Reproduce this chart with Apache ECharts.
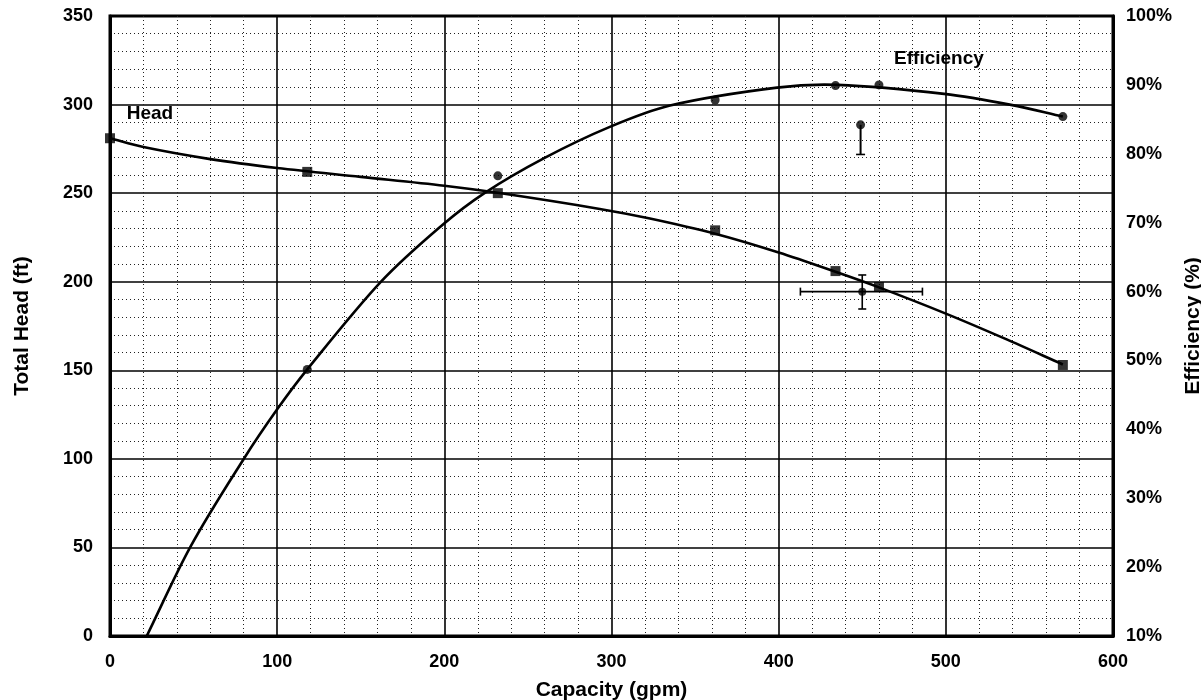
<!DOCTYPE html>
<html>
<head>
<meta charset="utf-8">
<script src="https://cdn.jsdelivr.net/npm/echarts@6/dist/echarts.min.js"></script>
<style>
html,body{margin:0;padding:0;background:#fff;}
#chart{width:1201px;height:700px;}
</style>
</head>
<body>
<div id="chart"></div>
<script>
// Axis ticks
const capacityTicks = [0, 100, 200, 300, 400, 500, 600];
const headTicks = [0, 50, 100, 150, 200, 250, 300, 350];
const effTicks = [10, 20, 30, 40, 50, 60, 70, 80, 90, 100];

// Head (ft) measured points [capacity gpm, head ft]
const headPoints = [[0, 281], [118, 262], [232, 250], [362, 229], [434, 206], [460, 197], [570, 153]];
// Head fitted curve
const headCurve = [[0, 281], [20, 276], [60, 269.2], [100, 264.2], [150, 259.2], [200, 254.2], [232, 250.2],
  [293, 241.1], [323, 235.7], [362, 227.1], [400, 216.5], [434, 205.6], [460, 196.8], [500, 182], [535, 168], [570, 153.3]];

// Efficiency (%) measured points [capacity gpm, efficiency %]
const effPoints = [[118, 48.7], [232, 76.8], [362, 87.8], [434, 89.9], [460, 90.0], [570, 85.4]];
// Efficiency fitted curve
const effCurve = [[22, 10], [48, 22.9], [80, 35.7], [100, 42.9], [118, 48.7], [162, 61.4],
  [199, 69.7], [224, 74.3], [260, 79.4], [299, 83.9], [335, 87.0], [399, 89.6], [435, 90.0], [499, 88.7],
  [539, 87.1], [570, 85.4]];

// Error-bar points
// head: [x, y, xLow, xHigh, yLow, yHigh]
const headErr = [[450, 194.4, 413, 486, 184.6, 203.8]];
// efficiency: [x, y, yLow]
const effErr = [[449, 84.2, 79.9]];

// Annotations [x, y(ft), text]
const notes = [[10, 295, 'Head'], [469, 326, 'Efficiency']];

const FONT = '"Liberation Sans", Arial, sans-serif';
const chart = echarts.init(document.getElementById('chart'), null, {renderer: 'canvas'});

const capStyle = {stroke: '#000', lineWidth: 1.6};
const tickFont = {fontFamily: FONT, fontWeight: 'bold', fontSize: 18, color: '#000'};
const nameFont = {fontFamily: FONT, fontWeight: 'bold', fontSize: 21, color: '#000'};

// Smooth curve through points (Hermite spline in pixel space, y as function of x)
function curveSeries(name, pts, yAxisIndex) {
  return {
    name: name, type: 'custom', xAxisIndex: 0, yAxisIndex: yAxisIndex, data: pts, z: 3,
    encode: {x: 0, y: 1}, silent: true,
    renderItem: function (params, api) {
      if (params.dataIndex !== 0) return null;
      const P = pts.map(p => api.coord(p));
      const n = P.length;
      const m = P.map((p, i) => {
        const a = P[Math.max(0, i - 1)], b = P[Math.min(n - 1, i + 1)];
        return (b[1] - a[1]) / (b[0] - a[0]);
      });
      let d = 'M' + P[0][0] + ' ' + P[0][1];
      for (let i = 0; i < n - 1; i++) {
        const dx = (P[i + 1][0] - P[i][0]) / 3;
        d += ' C' + (P[i][0] + dx) + ' ' + (P[i][1] + m[i] * dx) + ' ' +
          (P[i + 1][0] - dx) + ' ' + (P[i + 1][1] - m[i + 1] * dx) + ' ' +
          P[i + 1][0] + ' ' + P[i + 1][1];
      }
      return {type: 'path', shape: {pathData: d}, style: {stroke: '#000', lineWidth: 2.6, fill: null}};
    }
  };
}

const option = {
  backgroundColor: '#fff',
  animation: false,
  grid: {left: 110, right: 88, top: 16, bottom: 64, outerBoundsMode: 'none', containLabel: false,
    show: true, borderColor: '#000', borderWidth: 3, backgroundColor: 'transparent'},
  xAxis: {
    type: 'value', min: capacityTicks[0], max: capacityTicks[capacityTicks.length - 1], interval: 100,
    name: 'Capacity (gpm)', nameLocation: 'middle', nameGap: 44, nameTextStyle: nameFont,
    axisLine: {show: true, lineStyle: {color: '#000', width: 3}},
    axisTick: {show: false},
    axisLabel: Object.assign({margin: 17}, tickFont),
    splitLine: {show: true, lineStyle: {color: '#000', width: 1.6}},
    minorTick: {show: false, splitNumber: 5},
    minorSplitLine: {show: true, lineStyle: {color: '#222', width: 1, type: [1, 3]}}
  },
  yAxis: [{
    type: 'value', min: headTicks[0], max: headTicks[headTicks.length - 1], interval: 50,
    name: 'Total Head (ft)', nameLocation: 'middle', nameGap: 77, nameRotate: 90, nameTextStyle: nameFont,
    axisLine: {show: true, lineStyle: {color: '#000', width: 3}},
    axisTick: {show: false},
    axisLabel: Object.assign({margin: 17}, tickFont),
    splitLine: {show: true, lineStyle: {color: '#000', width: 1.6}},
    minorTick: {show: false, splitNumber: 5},
    minorSplitLine: {show: true, lineStyle: {color: '#222', width: 1, type: [1, 3]}}
  }, {
    type: 'value', min: effTicks[0], max: effTicks[effTicks.length - 1], interval: 10, position: 'right',
    name: 'Efficiency (%)', nameLocation: 'middle', nameGap: 62, nameRotate: 90, nameTextStyle: nameFont,
    axisLine: {show: true, lineStyle: {color: '#000', width: 3}},
    axisTick: {show: false},
    axisLabel: Object.assign({margin: 13, formatter: '{value}%'}, tickFont),
    splitLine: {show: false}
  }],
  series: [
    curveSeries('Head curve', headCurve, 0),
    {
      name: 'Head', type: 'scatter', xAxisIndex: 0, yAxisIndex: 0, data: headPoints,
      symbol: 'rect', symbolSize: 10, itemStyle: {color: '#000'}, z: 4
    },
    curveSeries('Efficiency curve', effCurve, 1),
    {
      name: 'Efficiency', type: 'scatter', xAxisIndex: 0, yAxisIndex: 1, data: effPoints,
      symbol: 'circle', symbolSize: 9, itemStyle: {color: '#000'}, z: 4
    },
    {
      name: 'Head error', type: 'custom', xAxisIndex: 0, yAxisIndex: 0, data: headErr, z: 5,
      renderItem: function (params, api) {
        const x = api.value(0), y = api.value(1);
        const pL = api.coord([api.value(2), y]), pR = api.coord([api.value(3), y]);
        const pB = api.coord([x, api.value(4)]), pT = api.coord([x, api.value(5)]);
        const c = 4;
        return {type: 'group', children: [
          {type: 'line', shape: {x1: pL[0], y1: pL[1], x2: pR[0], y2: pR[1]}, style: capStyle},
          {type: 'line', shape: {x1: pL[0], y1: pL[1] - c, x2: pL[0], y2: pL[1] + c}, style: capStyle},
          {type: 'line', shape: {x1: pR[0], y1: pR[1] - c, x2: pR[0], y2: pR[1] + c}, style: capStyle},
          {type: 'line', shape: {x1: pB[0], y1: pB[1], x2: pT[0], y2: pT[1]}, style: capStyle},
          {type: 'line', shape: {x1: pB[0] - c, y1: pB[1], x2: pB[0] + c, y2: pB[1]}, style: capStyle},
          {type: 'line', shape: {x1: pT[0] - c, y1: pT[1], x2: pT[0] + c, y2: pT[1]}, style: capStyle}
        ]};
      }
    },
    {
      name: 'Head error point', type: 'scatter', xAxisIndex: 0, yAxisIndex: 0,
      data: headErr.map(d => [d[0], d[1]]), symbol: 'circle', symbolSize: 8, itemStyle: {color: '#000'}, z: 6
    },
    {
      name: 'Eff error', type: 'custom', xAxisIndex: 0, yAxisIndex: 1, data: effErr, z: 5,
      renderItem: function (params, api) {
        const x = api.value(0);
        const pC = api.coord([x, api.value(1)]), pB = api.coord([x, api.value(2)]);
        const c = 4.5;
        return {type: 'group', children: [
          {type: 'line', shape: {x1: pC[0], y1: pC[1], x2: pB[0], y2: pB[1]}, style: {stroke: '#000', lineWidth: 2}},
          {type: 'line', shape: {x1: pB[0] - c, y1: pB[1], x2: pB[0] + c, y2: pB[1]}, style: capStyle}
        ]};
      }
    },
    {
      name: 'Eff error point', type: 'scatter', xAxisIndex: 0, yAxisIndex: 1,
      data: effErr.map(d => [d[0], d[1]]), symbol: 'circle', symbolSize: 9, itemStyle: {color: '#000'}, z: 6
    },
    {
      name: 'Notes', type: 'scatter', xAxisIndex: 0, yAxisIndex: 0,
      data: notes.map(n => ({value: [n[0], n[1]], label: {formatter: n[2]}})),
      symbolSize: 0.1, itemStyle: {color: '#000', opacity: 1}, z: 7, silent: true,
      label: {show: true, position: 'right', distance: 0, fontFamily: FONT, fontWeight: 'bold', fontSize: 19, color: '#000', opacity: 1}
    }
  ]
};
chart.setOption(option);
</script>
</body>
</html>
